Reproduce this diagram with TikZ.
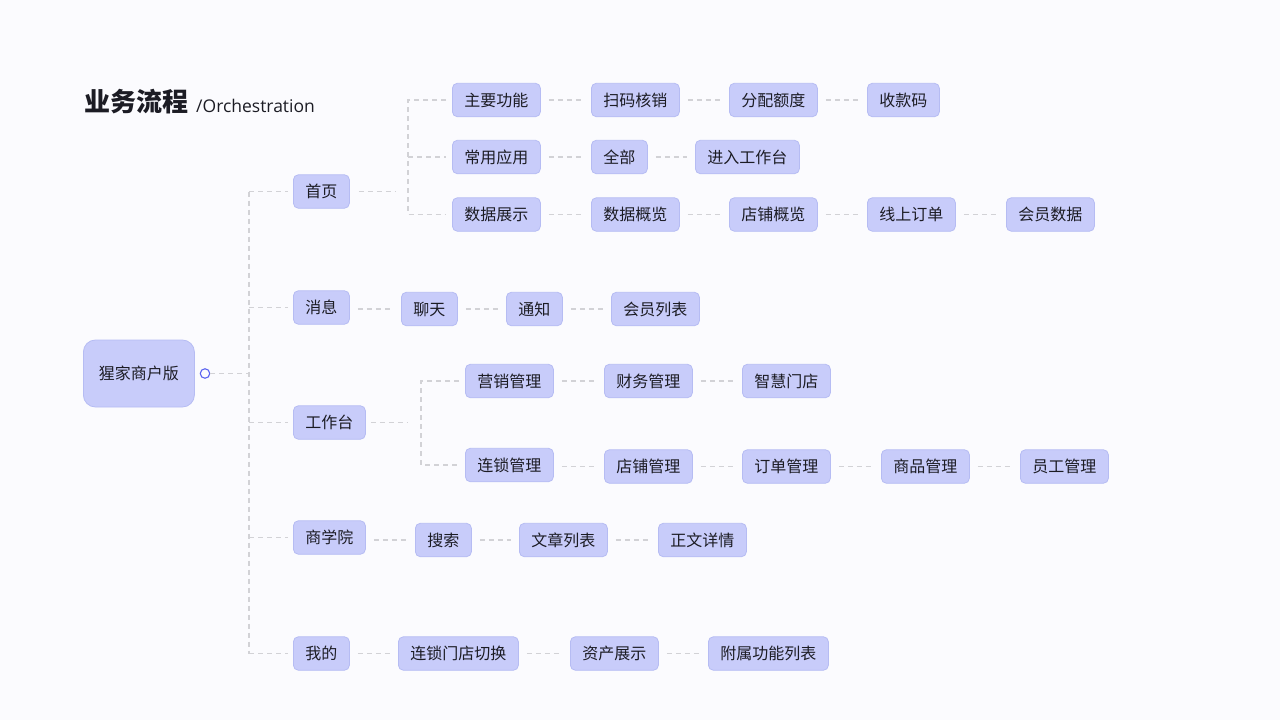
\documentclass[tikz,border=0pt]{standalone}
\usepackage{fontspec}
\setmainfont{Noto Sans CJK SC}
\newfontfamily\latinfont{Open Sans}
\definecolor{bgcol}{HTML}{FBFBFE}
\definecolor{boxfill}{HTML}{C8CCFA}
\definecolor{boxline}{HTML}{B6BCF3}
\definecolor{txtcol}{HTML}{1C1C24}
\definecolor{dashcol}{HTML}{D2D2D6}
\definecolor{dotcol}{HTML}{5A63F0}
\begin{document}
\begin{tikzpicture}[x=1pt,y=-1pt,
  box/.style={draw=boxline, fill=boxfill, rounded corners=5pt, line width=0.8pt,
    minimum height=33.5pt, inner xsep=12pt, inner ysep=0pt, text height=14pt, text depth=2pt,
    font=\fontsize{16}{16}\selectfont, text=txtcol, anchor=west},
  rootbox/.style={box, minimum width=111pt, minimum height=67pt, rounded corners=12pt},
  conn/.style={draw=dashcol, line width=1.1pt, dash pattern=on 5pt off 4pt},
  link/.style={conn, shorten <=8pt, shorten >=8pt}
]
\fill[bgcol] (0,0) rectangle (1280,720);
\useasboundingbox (0,0) rectangle (1280,720);

% title
\node[anchor=base west, inner sep=0pt, font=\fontsize{26}{26}\selectfont\bfseries, text=txtcol] (title) at (84,111) {业务流程};
\node[anchor=base west, inner sep=0pt, font=\latinfont\fontsize{17.5}{17.5}\selectfont, text=txtcol] (subtitle) at (196,112) {/Orchestration};

% root
\node[rootbox] (root) at (83,373.5) {猩家商户版};
\node[circle, draw=dotcol, line width=1.1pt, minimum size=9.5pt, inner sep=0pt, fill=bgcol] (dot) at (205,373.5) {};

% level 1
\node[box] (shouye) at (293,191.5) {首页};
\node[box] (xiaoxi) at (293,307.5) {消息};
\node[box] (gzt) at (293,422.5) {工作台};
\node[box] (sxy) at (293,537.5) {商学院};
\node[box] (wode) at (293,653.5) {我的};

% 首页 children
\node[box] (a1) at (452,100) {主要功能};
\node[box] (a2) at (591,100) {扫码核销};
\node[box] (a3) at (729,100) {分配额度};
\node[box] (a4) at (867,100) {收款码};
\node[box] (b1) at (452,157) {常用应用};
\node[box] (b2) at (591,157) {全部};
\node[box] (b3) at (695,157) {进入工作台};
\node[box] (c1) at (452,214.5) {数据展示};
\node[box] (c2) at (591,214.5) {数据概览};
\node[box] (c3) at (729,214.5) {店铺概览};
\node[box] (c4) at (867,214.5) {线上订单};
\node[box] (c5) at (1006,214.5) {会员数据};

% 消息 children
\node[box] (d1) at (401,309) {聊天};
\node[box] (d2) at (506,309) {通知};
\node[box] (d3) at (611,309) {会员列表};

% 工作台 children
\node[box] (e1) at (465,381) {营销管理};
\node[box] (e2) at (604,381) {财务管理};
\node[box] (e3) at (742,381) {智慧门店};
\node[box] (f1) at (465,465) {连锁管理};
\node[box] (f2) at (604,466.5) {店铺管理};
\node[box] (f3) at (742,466.5) {订单管理};
\node[box] (f4) at (881,466.5) {商品管理};
\node[box] (f5) at (1020,466.5) {员工管理};

% 商学院 children
\node[box] (g1) at (415,540) {搜索};
\node[box] (g2) at (519,540) {文章列表};
\node[box] (g3) at (658,540) {正文详情};

% 我的 children
\node[box] (h1) at (398,653.5) {连锁门店切换};
\node[box] (h2) at (570,653.5) {资产展示};
\node[box] (h3) at (708,653.5) {附属功能列表};

% trunk
\coordinate (tmid) at (249,373.5);
\coordinate (ttop) at (249,191.5);
\coordinate (tbot) at (249,653.5);
\draw[conn] (dot.east) -- (tmid);
\draw[conn] (ttop) -- (tbot);
\foreach \n in {shouye,xiaoxi,gzt,sxy,wode}
  \draw[conn] (ttop |- \n.west) -- ([xshift=-5pt]\n.west);

% 首页 bracket
\coordinate (sjA) at (395,191.5);
\coordinate (sjTop) at (408,100);
\coordinate (sjMid) at (408,157);
\coordinate (sjBot) at (408,214.5);
\draw[conn] ([xshift=9pt]shouye.east) -- (sjA);
\draw[conn] ([xshift=-6pt]a1.west) -- (sjTop) -- (sjBot) -- ([xshift=-6pt]c1.west);
\draw[conn] (sjMid) -- ([xshift=-6pt]b1.west);

% 工作台 bracket
\coordinate (gjA) at (408,422.5);
\coordinate (gjTop) at (421,381);
\coordinate (gjBot) at (421,465);
\draw[conn] ([xshift=5pt]gzt.east) -- (gjA);
\draw[conn] ([xshift=-6pt]e1.west) -- (gjTop) -- (gjBot) -- ([xshift=-6pt]f1.west);

% links (horizontal, at the level of the target box)
\foreach \s/\t in {a1/a2,a2/a3,a3/a4,b1/b2,b2/b3,c1/c2,c2/c3,c3/c4,c4/c5,
                   xiaoxi/d1,d1/d2,d2/d3,e1/e2,e2/e3,f1/f2,f2/f3,f3/f4,f4/f5,
                   sxy/g1,g1/g2,g2/g3,wode/h1,h1/h2,h2/h3}
  \draw[link] (\s.east |- \t.west) -- (\t.west);
\end{tikzpicture}
\end{document}
